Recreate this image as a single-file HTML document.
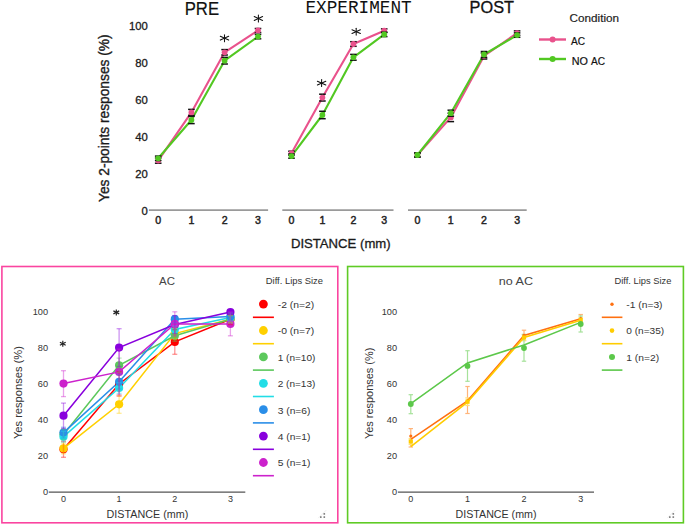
<!DOCTYPE html><html><head><meta charset="utf-8"><style>
html,body{margin:0;padding:0;background:#fff;width:685px;height:525px;overflow:hidden}
svg{display:block}
text{font-family:"Liberation Sans", sans-serif}
</style></head><body>
<svg width="685" height="525" viewBox="0 0 685 525">
<text x="184.7" y="14.9" font-size="19" fill="#111" stroke="#111" stroke-width="0.2" textLength="34.4" lengthAdjust="spacingAndGlyphs">PRE</text>
<text x="305.4" y="13.3" font-size="17.7" fill="#111" style="font-family:'Liberation Mono', monospace" textLength="106.3" lengthAdjust="spacingAndGlyphs">EXPERIMENT</text>
<text x="469.6" y="12.8" font-size="16.3" fill="#111" stroke="#111" stroke-width="0.3" textLength="44.4" lengthAdjust="spacingAndGlyphs">POST</text>
<text transform="translate(109.1,202) rotate(-90)" x="0" y="0" font-size="14.7" fill="#1a1a1a" stroke="#1a1a1a" stroke-width="0.35" textLength="167.6" lengthAdjust="spacingAndGlyphs">Yes 2-points responses (%)</text>
<text x="147.9" y="215.3" font-size="11.3" fill="#1a1a1a" stroke="#1a1a1a" stroke-width="0.3" text-anchor="end">0</text>
<text x="147.9" y="178.2" font-size="11.3" fill="#1a1a1a" stroke="#1a1a1a" stroke-width="0.3" text-anchor="end">20</text>
<text x="147.9" y="141.1" font-size="11.3" fill="#1a1a1a" stroke="#1a1a1a" stroke-width="0.3" text-anchor="end">40</text>
<text x="147.9" y="104.0" font-size="11.3" fill="#1a1a1a" stroke="#1a1a1a" stroke-width="0.3" text-anchor="end">60</text>
<text x="147.9" y="66.9" font-size="11.3" fill="#1a1a1a" stroke="#1a1a1a" stroke-width="0.3" text-anchor="end">80</text>
<text x="147.9" y="29.8" font-size="11.3" fill="#1a1a1a" stroke="#1a1a1a" stroke-width="0.3" text-anchor="end">100</text>
<line x1="148.9" y1="210.1" x2="268.1" y2="210.1" stroke="#9a9a9a" stroke-width="1.7"/>
<line x1="282.3" y1="210.1" x2="393.5" y2="210.1" stroke="#9a9a9a" stroke-width="1.7"/>
<line x1="408" y1="210.1" x2="526.7" y2="210.1" stroke="#9a9a9a" stroke-width="1.7"/>
<text x="158.2" y="224.2" font-size="10.6" fill="#222" text-anchor="middle" stroke="#222" stroke-width="0.45">0</text>
<text x="191.4" y="224.2" font-size="10.6" fill="#222" text-anchor="middle" stroke="#222" stroke-width="0.45">1</text>
<text x="224.6" y="224.2" font-size="10.6" fill="#222" text-anchor="middle" stroke="#222" stroke-width="0.45">2</text>
<text x="258.0" y="224.2" font-size="10.6" fill="#222" text-anchor="middle" stroke="#222" stroke-width="0.45">3</text>
<text x="291.5" y="224.2" font-size="10.6" fill="#222" text-anchor="middle" stroke="#222" stroke-width="0.45">0</text>
<text x="322.4" y="224.2" font-size="10.6" fill="#222" text-anchor="middle" stroke="#222" stroke-width="0.45">1</text>
<text x="353.4" y="224.2" font-size="10.6" fill="#222" text-anchor="middle" stroke="#222" stroke-width="0.45">2</text>
<text x="384.2" y="224.2" font-size="10.6" fill="#222" text-anchor="middle" stroke="#222" stroke-width="0.45">3</text>
<text x="417.4" y="224.2" font-size="10.6" fill="#222" text-anchor="middle" stroke="#222" stroke-width="0.45">0</text>
<text x="450.8" y="224.2" font-size="10.6" fill="#222" text-anchor="middle" stroke="#222" stroke-width="0.45">1</text>
<text x="484.0" y="224.2" font-size="10.6" fill="#222" text-anchor="middle" stroke="#222" stroke-width="0.45">2</text>
<text x="517.1" y="224.2" font-size="10.6" fill="#222" text-anchor="middle" stroke="#222" stroke-width="0.45">3</text>
<text x="290.9" y="247.8" font-size="13" fill="#1a1a1a" stroke="#1a1a1a" stroke-width="0.3" textLength="99.8" lengthAdjust="spacingAndGlyphs">DISTANCE (mm)</text>
<polyline points="158.2,160.6 191.4,112.4 224.6,52.3 258.0,30.5" fill="none" stroke="#e9528c" stroke-width="2.1" stroke-linejoin="round"/>
<polyline points="158.2,158.3 191.4,120.0 224.6,60.7 258.0,36.6" fill="none" stroke="#52c822" stroke-width="2.1" stroke-linejoin="round"/>
<line x1="154.9" y1="158.0" x2="161.5" y2="158.0" stroke="#111" stroke-width="1.5"/>
<line x1="154.9" y1="163.2" x2="161.5" y2="163.2" stroke="#111" stroke-width="1.5"/>
<circle cx="158.2" cy="160.6" r="2.9" fill="#e9528c"/>
<line x1="188.1" y1="109.4" x2="194.7" y2="109.4" stroke="#111" stroke-width="1.5"/>
<line x1="188.1" y1="115.4" x2="194.7" y2="115.4" stroke="#111" stroke-width="1.5"/>
<circle cx="191.4" cy="112.4" r="2.9" fill="#e9528c"/>
<line x1="221.3" y1="49.6" x2="227.9" y2="49.6" stroke="#111" stroke-width="1.5"/>
<line x1="221.3" y1="55.0" x2="227.9" y2="55.0" stroke="#111" stroke-width="1.5"/>
<circle cx="224.6" cy="52.3" r="2.9" fill="#e9528c"/>
<line x1="254.7" y1="28.5" x2="261.3" y2="28.5" stroke="#111" stroke-width="1.5"/>
<line x1="254.7" y1="32.5" x2="261.3" y2="32.5" stroke="#111" stroke-width="1.5"/>
<circle cx="258.0" cy="30.5" r="2.9" fill="#e9528c"/>
<line x1="154.9" y1="156.1" x2="161.5" y2="156.1" stroke="#111" stroke-width="1.5"/>
<line x1="154.9" y1="160.5" x2="161.5" y2="160.5" stroke="#111" stroke-width="1.5"/>
<circle cx="158.2" cy="158.3" r="2.9" fill="#52c822"/>
<line x1="188.1" y1="116.4" x2="194.7" y2="116.4" stroke="#111" stroke-width="1.5"/>
<line x1="188.1" y1="123.6" x2="194.7" y2="123.6" stroke="#111" stroke-width="1.5"/>
<circle cx="191.4" cy="120.0" r="2.9" fill="#52c822"/>
<line x1="221.3" y1="57.4" x2="227.9" y2="57.4" stroke="#111" stroke-width="1.5"/>
<line x1="221.3" y1="64.0" x2="227.9" y2="64.0" stroke="#111" stroke-width="1.5"/>
<circle cx="224.6" cy="60.7" r="2.9" fill="#52c822"/>
<line x1="254.7" y1="34.4" x2="261.3" y2="34.4" stroke="#111" stroke-width="1.5"/>
<line x1="254.7" y1="38.8" x2="261.3" y2="38.8" stroke="#111" stroke-width="1.5"/>
<circle cx="258.0" cy="36.6" r="2.9" fill="#52c822"/>
<polyline points="291.5,153.2 322.4,97.6 353.4,44.0 384.2,30.7" fill="none" stroke="#e9528c" stroke-width="2.1" stroke-linejoin="round"/>
<polyline points="291.5,156.1 322.4,115.0 353.4,57.3 384.2,34.4" fill="none" stroke="#52c822" stroke-width="2.1" stroke-linejoin="round"/>
<line x1="288.2" y1="151.2" x2="294.8" y2="151.2" stroke="#111" stroke-width="1.5"/>
<line x1="288.2" y1="155.2" x2="294.8" y2="155.2" stroke="#111" stroke-width="1.5"/>
<circle cx="291.5" cy="153.2" r="2.9" fill="#e9528c"/>
<line x1="319.1" y1="94.2" x2="325.7" y2="94.2" stroke="#111" stroke-width="1.5"/>
<line x1="319.1" y1="101.0" x2="325.7" y2="101.0" stroke="#111" stroke-width="1.5"/>
<circle cx="322.4" cy="97.6" r="2.9" fill="#e9528c"/>
<line x1="350.1" y1="41.7" x2="356.7" y2="41.7" stroke="#111" stroke-width="1.5"/>
<line x1="350.1" y1="46.3" x2="356.7" y2="46.3" stroke="#111" stroke-width="1.5"/>
<circle cx="353.4" cy="44.0" r="2.9" fill="#e9528c"/>
<line x1="380.9" y1="28.9" x2="387.5" y2="28.9" stroke="#111" stroke-width="1.5"/>
<line x1="380.9" y1="32.5" x2="387.5" y2="32.5" stroke="#111" stroke-width="1.5"/>
<circle cx="384.2" cy="30.7" r="2.9" fill="#e9528c"/>
<line x1="288.2" y1="154.0" x2="294.8" y2="154.0" stroke="#111" stroke-width="1.5"/>
<line x1="288.2" y1="158.2" x2="294.8" y2="158.2" stroke="#111" stroke-width="1.5"/>
<circle cx="291.5" cy="156.1" r="2.9" fill="#52c822"/>
<line x1="319.1" y1="111.3" x2="325.7" y2="111.3" stroke="#111" stroke-width="1.5"/>
<line x1="319.1" y1="118.7" x2="325.7" y2="118.7" stroke="#111" stroke-width="1.5"/>
<circle cx="322.4" cy="115.0" r="2.9" fill="#52c822"/>
<line x1="350.1" y1="54.4" x2="356.7" y2="54.4" stroke="#111" stroke-width="1.5"/>
<line x1="350.1" y1="60.2" x2="356.7" y2="60.2" stroke="#111" stroke-width="1.5"/>
<circle cx="353.4" cy="57.3" r="2.9" fill="#52c822"/>
<line x1="380.9" y1="32.2" x2="387.5" y2="32.2" stroke="#111" stroke-width="1.5"/>
<line x1="380.9" y1="36.6" x2="387.5" y2="36.6" stroke="#111" stroke-width="1.5"/>
<circle cx="384.2" cy="34.4" r="2.9" fill="#52c822"/>
<polyline points="417.4,155.0 450.8,117.4 484.0,56.0 517.1,33.1" fill="none" stroke="#e9528c" stroke-width="2.1" stroke-linejoin="round"/>
<polyline points="417.4,155.0 450.8,113.2 484.0,54.5 517.1,35.1" fill="none" stroke="#52c822" stroke-width="2.1" stroke-linejoin="round"/>
<line x1="414.1" y1="153.0" x2="420.7" y2="153.0" stroke="#111" stroke-width="1.5"/>
<line x1="414.1" y1="157.0" x2="420.7" y2="157.0" stroke="#111" stroke-width="1.5"/>
<circle cx="417.4" cy="155.0" r="2.9" fill="#e9528c"/>
<line x1="447.5" y1="113.2" x2="454.1" y2="113.2" stroke="#111" stroke-width="1.5"/>
<line x1="447.5" y1="121.6" x2="454.1" y2="121.6" stroke="#111" stroke-width="1.5"/>
<circle cx="450.8" cy="117.4" r="2.9" fill="#e9528c"/>
<line x1="480.7" y1="53.0" x2="487.3" y2="53.0" stroke="#111" stroke-width="1.5"/>
<line x1="480.7" y1="59.0" x2="487.3" y2="59.0" stroke="#111" stroke-width="1.5"/>
<circle cx="484.0" cy="56.0" r="2.9" fill="#e9528c"/>
<line x1="513.8" y1="30.9" x2="520.4" y2="30.9" stroke="#111" stroke-width="1.5"/>
<line x1="513.8" y1="35.3" x2="520.4" y2="35.3" stroke="#111" stroke-width="1.5"/>
<circle cx="517.1" cy="33.1" r="2.9" fill="#e9528c"/>
<line x1="414.1" y1="153.0" x2="420.7" y2="153.0" stroke="#111" stroke-width="1.5"/>
<line x1="414.1" y1="157.0" x2="420.7" y2="157.0" stroke="#111" stroke-width="1.5"/>
<circle cx="417.4" cy="155.0" r="2.9" fill="#52c822"/>
<line x1="447.5" y1="110.2" x2="454.1" y2="110.2" stroke="#111" stroke-width="1.5"/>
<line x1="447.5" y1="116.2" x2="454.1" y2="116.2" stroke="#111" stroke-width="1.5"/>
<circle cx="450.8" cy="113.2" r="2.9" fill="#52c822"/>
<line x1="480.7" y1="51.5" x2="487.3" y2="51.5" stroke="#111" stroke-width="1.5"/>
<line x1="480.7" y1="57.5" x2="487.3" y2="57.5" stroke="#111" stroke-width="1.5"/>
<circle cx="484.0" cy="54.5" r="2.9" fill="#52c822"/>
<line x1="513.8" y1="32.9" x2="520.4" y2="32.9" stroke="#111" stroke-width="1.5"/>
<line x1="513.8" y1="37.3" x2="520.4" y2="37.3" stroke="#111" stroke-width="1.5"/>
<circle cx="517.1" cy="35.1" r="2.9" fill="#52c822"/>
<g stroke="#111" stroke-width="1.05" stroke-linecap="round"><line x1="224.5" y1="34.8" x2="224.5" y2="41.7"/><line x1="220.3" y1="36.3" x2="228.7" y2="40.1"/><line x1="220.3" y1="40.1" x2="228.7" y2="36.3"/></g>
<g stroke="#111" stroke-width="1.05" stroke-linecap="round"><line x1="258.4" y1="15.1" x2="258.4" y2="21.9"/><line x1="254.2" y1="16.6" x2="262.6" y2="20.4"/><line x1="254.2" y1="20.4" x2="262.6" y2="16.6"/></g>
<g stroke="#111" stroke-width="1.05" stroke-linecap="round"><line x1="321.6" y1="79.6" x2="321.6" y2="86.5"/><line x1="317.4" y1="81.2" x2="325.8" y2="85.0"/><line x1="317.4" y1="85.0" x2="325.8" y2="81.2"/></g>
<g stroke="#111" stroke-width="1.05" stroke-linecap="round"><line x1="356.2" y1="28.2" x2="356.2" y2="35.1"/><line x1="352.0" y1="29.7" x2="360.4" y2="33.5"/><line x1="352.0" y1="33.5" x2="360.4" y2="29.7"/></g>
<text x="569.6" y="22" font-size="11.7" fill="#222" stroke="#222" stroke-width="0.2">Condition</text>
<line x1="539" y1="39.5" x2="566" y2="39.5" stroke="#e9528c" stroke-width="2.4"/><circle cx="552.6" cy="39.5" r="3" fill="#e9528c"/>
<line x1="539" y1="59" x2="566" y2="59" stroke="#52c822" stroke-width="2.4"/><circle cx="552.6" cy="59" r="3" fill="#52c822"/>
<text x="571.1" y="45.2" font-size="11.8" fill="#111" stroke="#111" stroke-width="0.2" textLength="14.1" lengthAdjust="spacingAndGlyphs">AC</text>
<text x="571.7" y="64.7" font-size="11.8" fill="#111" stroke="#111" stroke-width="0.2" textLength="16.2" lengthAdjust="spacingAndGlyphs">NO</text>
<text x="590.9" y="64.7" font-size="11.8" fill="#111" stroke="#111" stroke-width="0.2" textLength="14.1" lengthAdjust="spacingAndGlyphs">AC</text>
<rect x="1.9" y="266.5" width="335.90000000000003" height="256.29999999999995" fill="none" stroke="#fa45a0" stroke-width="1.6"/>
<line x1="318.3" y1="518.0999999999999" x2="326.3" y2="510.0999999999999" stroke="#eee" stroke-width="1"/>
<rect x="323.5" y="516.3" width="1.6" height="1.6" fill="#777"/>
<rect x="320.0" y="516.3" width="1.6" height="1.6" fill="#777"/>
<rect x="323.5" y="513.1" width="1.6" height="1.6" fill="#777"/>
<rect x="347.6" y="266.5" width="335.79999999999995" height="256.29999999999995" fill="none" stroke="#5fcb25" stroke-width="1.6"/>
<line x1="667.3" y1="518.0999999999999" x2="675.3" y2="510.0999999999999" stroke="#eee" stroke-width="1"/>
<rect x="672.5" y="516.3" width="1.6" height="1.6" fill="#777"/>
<rect x="669.0" y="516.3" width="1.6" height="1.6" fill="#777"/>
<rect x="672.5" y="513.1" width="1.6" height="1.6" fill="#777"/>
<line x1="48.8" y1="492.1" x2="245.3" y2="492.1" stroke="#555" stroke-width="1.1"/>
<text x="48" y="495.3" font-size="9.2" fill="#333" text-anchor="end">0</text>
<text x="48" y="459.3" font-size="9.2" fill="#333" text-anchor="end">20</text>
<text x="48" y="423.3" font-size="9.2" fill="#333" text-anchor="end">40</text>
<text x="48" y="387.3" font-size="9.2" fill="#333" text-anchor="end">60</text>
<text x="48" y="351.3" font-size="9.2" fill="#333" text-anchor="end">80</text>
<text x="48" y="315.3" font-size="9.2" fill="#333" text-anchor="end">100</text>
<text x="63.5" y="501.6" font-size="9.0" fill="#333" text-anchor="middle">0</text>
<text x="119.1" y="501.6" font-size="9.0" fill="#333" text-anchor="middle">1</text>
<text x="174.8" y="501.6" font-size="9.0" fill="#333" text-anchor="middle">2</text>
<text x="230.4" y="501.6" font-size="9.0" fill="#333" text-anchor="middle">3</text>
<text x="106.6" y="517.7" font-size="10.3" fill="#333" textLength="81.7" lengthAdjust="spacingAndGlyphs">DISTANCE (mm)</text>
<text transform="translate(22.4,439.1) rotate(-90)" font-size="11" fill="#333" textLength="93" lengthAdjust="spacingAndGlyphs">Yes responses (%)</text>
<text x="159.1" y="285.4" font-size="11.6" fill="#444" textLength="15.9" lengthAdjust="spacingAndGlyphs">AC</text>
<line x1="397.9" y1="492.1" x2="594" y2="492.1" stroke="#555" stroke-width="1.1"/>
<text x="397" y="495.3" font-size="9.2" fill="#333" text-anchor="end">0</text>
<text x="397" y="459.3" font-size="9.2" fill="#333" text-anchor="end">20</text>
<text x="397" y="423.3" font-size="9.2" fill="#333" text-anchor="end">40</text>
<text x="397" y="387.3" font-size="9.2" fill="#333" text-anchor="end">60</text>
<text x="397" y="351.3" font-size="9.2" fill="#333" text-anchor="end">80</text>
<text x="397" y="315.3" font-size="9.2" fill="#333" text-anchor="end">100</text>
<text x="410.8" y="501.6" font-size="9.0" fill="#333" text-anchor="middle">0</text>
<text x="467.5" y="501.6" font-size="9.0" fill="#333" text-anchor="middle">1</text>
<text x="524.0" y="501.6" font-size="9.0" fill="#333" text-anchor="middle">2</text>
<text x="580.7" y="501.6" font-size="9.0" fill="#333" text-anchor="middle">3</text>
<text x="455.5" y="517.7" font-size="10.3" fill="#333" textLength="81" lengthAdjust="spacingAndGlyphs">DISTANCE (mm)</text>
<text transform="translate(372.6,439.1) rotate(-90)" font-size="11" fill="#333" textLength="91.5" lengthAdjust="spacingAndGlyphs">Yes responses (%)</text>
<text x="498.8" y="285.4" font-size="11.6" fill="#444" textLength="34.2" lengthAdjust="spacingAndGlyphs">no AC</text>
<polyline points="63.5,449.3 119.1,384.0 174.8,341.9 230.4,319.2" fill="none" stroke="#ff0000" stroke-width="1.55"/>
<polyline points="63.5,448.4 119.1,404.3 174.8,333.6 230.4,319.2" fill="none" stroke="#ffd000" stroke-width="1.55"/>
<polyline points="63.5,434.4 119.1,365.3 174.8,335.8 230.4,319.2" fill="none" stroke="#5cc85c" stroke-width="1.55"/>
<polyline points="63.5,436.7 119.1,388.0 174.8,329.5 230.4,317.4" fill="none" stroke="#22dde6" stroke-width="1.55"/>
<polyline points="63.5,432.6 119.1,381.8 174.8,319.2 230.4,316.5" fill="none" stroke="#2a8ee8" stroke-width="1.55"/>
<polyline points="63.5,415.7 119.1,347.6 174.8,324.6 230.4,312.0" fill="none" stroke="#8800dd" stroke-width="1.55"/>
<polyline points="63.5,383.6 119.1,371.9 174.8,323.9 230.4,323.9" fill="none" stroke="#cc22cc" stroke-width="1.55"/>
<circle cx="63.5" cy="449.3" r="4.1" fill="#ff0000"/>
<circle cx="119.1" cy="384.0" r="4.1" fill="#ff0000"/>
<circle cx="174.8" cy="341.9" r="4.1" fill="#ff0000"/>
<circle cx="230.4" cy="319.2" r="4.1" fill="#ff0000"/>
<circle cx="63.5" cy="448.4" r="4.1" fill="#ffd000"/>
<circle cx="119.1" cy="404.3" r="4.1" fill="#ffd000"/>
<circle cx="174.8" cy="333.6" r="4.1" fill="#ffd000"/>
<circle cx="230.4" cy="319.2" r="4.1" fill="#ffd000"/>
<circle cx="63.5" cy="434.4" r="4.1" fill="#5cc85c"/>
<circle cx="119.1" cy="365.3" r="4.1" fill="#5cc85c"/>
<circle cx="174.8" cy="335.8" r="4.1" fill="#5cc85c"/>
<circle cx="230.4" cy="319.2" r="4.1" fill="#5cc85c"/>
<circle cx="63.5" cy="436.7" r="4.1" fill="#22dde6"/>
<circle cx="119.1" cy="388.0" r="4.1" fill="#22dde6"/>
<circle cx="174.8" cy="329.5" r="4.1" fill="#22dde6"/>
<circle cx="230.4" cy="317.4" r="4.1" fill="#22dde6"/>
<circle cx="63.5" cy="432.6" r="4.1" fill="#2a8ee8"/>
<circle cx="119.1" cy="381.8" r="4.1" fill="#2a8ee8"/>
<circle cx="174.8" cy="319.2" r="4.1" fill="#2a8ee8"/>
<circle cx="230.4" cy="316.5" r="4.1" fill="#2a8ee8"/>
<circle cx="63.5" cy="415.7" r="4.1" fill="#8800dd"/>
<circle cx="119.1" cy="347.6" r="4.1" fill="#8800dd"/>
<circle cx="174.8" cy="324.6" r="4.1" fill="#8800dd"/>
<circle cx="230.4" cy="312.0" r="4.1" fill="#8800dd"/>
<circle cx="63.5" cy="383.6" r="4.1" fill="#cc22cc"/>
<circle cx="119.1" cy="371.9" r="4.1" fill="#cc22cc"/>
<circle cx="174.8" cy="323.9" r="4.1" fill="#cc22cc"/>
<circle cx="230.4" cy="323.9" r="4.1" fill="#cc22cc"/>
<g stroke="#ff0000" stroke-opacity="0.42" stroke-width="1.3"><line x1="63.5" y1="441.4" x2="63.5" y2="457.3"/><line x1="61.0" y1="441.4" x2="66.0" y2="441.4"/><line x1="61.0" y1="457.3" x2="66.0" y2="457.3"/></g>
<g stroke="#ff0000" stroke-opacity="0.42" stroke-width="1.3"><line x1="119.1" y1="371.8" x2="119.1" y2="396.2"/><line x1="116.6" y1="371.8" x2="121.6" y2="371.8"/><line x1="116.6" y1="396.2" x2="121.6" y2="396.2"/></g>
<g stroke="#ff0000" stroke-opacity="0.42" stroke-width="1.3"><line x1="174.8" y1="329.5" x2="174.8" y2="354.3"/><line x1="172.3" y1="329.5" x2="177.3" y2="329.5"/><line x1="172.3" y1="354.3" x2="177.3" y2="354.3"/></g>
<g stroke="#ff0000" stroke-opacity="0.42" stroke-width="1.3"><line x1="230.4" y1="313.8" x2="230.4" y2="324.6"/><line x1="227.9" y1="313.8" x2="232.9" y2="313.8"/><line x1="227.9" y1="324.6" x2="232.9" y2="324.6"/></g>
<g stroke="#ffd000" stroke-opacity="0.42" stroke-width="1.3"><line x1="63.5" y1="443.0" x2="63.5" y2="453.8"/><line x1="61.0" y1="443.0" x2="66.0" y2="443.0"/><line x1="61.0" y1="453.8" x2="66.0" y2="453.8"/></g>
<g stroke="#ffd000" stroke-opacity="0.42" stroke-width="1.3"><line x1="119.1" y1="395.3" x2="119.1" y2="413.3"/><line x1="116.6" y1="395.3" x2="121.6" y2="395.3"/><line x1="116.6" y1="413.3" x2="121.6" y2="413.3"/></g>
<g stroke="#ffd000" stroke-opacity="0.42" stroke-width="1.3"><line x1="174.8" y1="328.2" x2="174.8" y2="339.0"/><line x1="172.3" y1="328.2" x2="177.3" y2="328.2"/><line x1="172.3" y1="339.0" x2="177.3" y2="339.0"/></g>
<g stroke="#ffd000" stroke-opacity="0.42" stroke-width="1.3"><line x1="230.4" y1="315.6" x2="230.4" y2="322.8"/><line x1="227.9" y1="315.6" x2="232.9" y2="315.6"/><line x1="227.9" y1="322.8" x2="232.9" y2="322.8"/></g>
<g stroke="#5cc85c" stroke-opacity="0.42" stroke-width="1.3"><line x1="63.5" y1="429.0" x2="63.5" y2="439.8"/><line x1="61.0" y1="429.0" x2="66.0" y2="429.0"/><line x1="61.0" y1="439.8" x2="66.0" y2="439.8"/></g>
<g stroke="#5cc85c" stroke-opacity="0.42" stroke-width="1.3"><line x1="119.1" y1="358.1" x2="119.1" y2="372.5"/><line x1="116.6" y1="358.1" x2="121.6" y2="358.1"/><line x1="116.6" y1="372.5" x2="121.6" y2="372.5"/></g>
<g stroke="#5cc85c" stroke-opacity="0.42" stroke-width="1.3"><line x1="174.8" y1="330.4" x2="174.8" y2="341.2"/><line x1="172.3" y1="330.4" x2="177.3" y2="330.4"/><line x1="172.3" y1="341.2" x2="177.3" y2="341.2"/></g>
<g stroke="#5cc85c" stroke-opacity="0.42" stroke-width="1.3"><line x1="230.4" y1="315.6" x2="230.4" y2="322.8"/><line x1="227.9" y1="315.6" x2="232.9" y2="315.6"/><line x1="227.9" y1="322.8" x2="232.9" y2="322.8"/></g>
<g stroke="#22dde6" stroke-opacity="0.42" stroke-width="1.3"><line x1="63.5" y1="431.3" x2="63.5" y2="442.1"/><line x1="61.0" y1="431.3" x2="66.0" y2="431.3"/><line x1="61.0" y1="442.1" x2="66.0" y2="442.1"/></g>
<g stroke="#22dde6" stroke-opacity="0.42" stroke-width="1.3"><line x1="119.1" y1="382.6" x2="119.1" y2="393.4"/><line x1="116.6" y1="382.6" x2="121.6" y2="382.6"/><line x1="116.6" y1="393.4" x2="121.6" y2="393.4"/></g>
<g stroke="#22dde6" stroke-opacity="0.42" stroke-width="1.3"><line x1="174.8" y1="325.9" x2="174.8" y2="333.1"/><line x1="172.3" y1="325.9" x2="177.3" y2="325.9"/><line x1="172.3" y1="333.1" x2="177.3" y2="333.1"/></g>
<g stroke="#22dde6" stroke-opacity="0.42" stroke-width="1.3"><line x1="230.4" y1="313.8" x2="230.4" y2="321.0"/><line x1="227.9" y1="313.8" x2="232.9" y2="313.8"/><line x1="227.9" y1="321.0" x2="232.9" y2="321.0"/></g>
<g stroke="#2a8ee8" stroke-opacity="0.42" stroke-width="1.3"><line x1="63.5" y1="427.2" x2="63.5" y2="438.0"/><line x1="61.0" y1="427.2" x2="66.0" y2="427.2"/><line x1="61.0" y1="438.0" x2="66.0" y2="438.0"/></g>
<g stroke="#2a8ee8" stroke-opacity="0.42" stroke-width="1.3"><line x1="119.1" y1="374.6" x2="119.1" y2="389.0"/><line x1="116.6" y1="374.6" x2="121.6" y2="374.6"/><line x1="116.6" y1="389.0" x2="121.6" y2="389.0"/></g>
<g stroke="#2a8ee8" stroke-opacity="0.42" stroke-width="1.3"><line x1="174.8" y1="315.6" x2="174.8" y2="322.8"/><line x1="172.3" y1="315.6" x2="177.3" y2="315.6"/><line x1="172.3" y1="322.8" x2="177.3" y2="322.8"/></g>
<g stroke="#2a8ee8" stroke-opacity="0.42" stroke-width="1.3"><line x1="230.4" y1="312.9" x2="230.4" y2="320.1"/><line x1="227.9" y1="312.9" x2="232.9" y2="312.9"/><line x1="227.9" y1="320.1" x2="232.9" y2="320.1"/></g>
<g stroke="#8800dd" stroke-opacity="0.42" stroke-width="1.3"><line x1="63.5" y1="403.1" x2="63.5" y2="428.3"/><line x1="61.0" y1="403.1" x2="66.0" y2="403.1"/><line x1="61.0" y1="428.3" x2="66.0" y2="428.3"/></g>
<g stroke="#8800dd" stroke-opacity="0.42" stroke-width="1.3"><line x1="119.1" y1="328.7" x2="119.1" y2="366.5"/><line x1="116.6" y1="328.7" x2="121.6" y2="328.7"/><line x1="116.6" y1="366.5" x2="121.6" y2="366.5"/></g>
<g stroke="#8800dd" stroke-opacity="0.42" stroke-width="1.3"><line x1="174.8" y1="315.6" x2="174.8" y2="333.6"/><line x1="172.3" y1="315.6" x2="177.3" y2="315.6"/><line x1="172.3" y1="333.6" x2="177.3" y2="333.6"/></g>
<g stroke="#8800dd" stroke-opacity="0.42" stroke-width="1.3"><line x1="230.4" y1="310.2" x2="230.4" y2="313.8"/><line x1="227.9" y1="310.2" x2="232.9" y2="310.2"/><line x1="227.9" y1="313.8" x2="232.9" y2="313.8"/></g>
<g stroke="#cc22cc" stroke-opacity="0.42" stroke-width="1.3"><line x1="63.5" y1="370.7" x2="63.5" y2="396.6"/><line x1="61.0" y1="370.7" x2="66.0" y2="370.7"/><line x1="61.0" y1="396.6" x2="66.0" y2="396.6"/></g>
<g stroke="#cc22cc" stroke-opacity="0.42" stroke-width="1.3"><line x1="119.1" y1="349.1" x2="119.1" y2="394.8"/><line x1="116.6" y1="349.1" x2="121.6" y2="349.1"/><line x1="116.6" y1="394.8" x2="121.6" y2="394.8"/></g>
<g stroke="#cc22cc" stroke-opacity="0.42" stroke-width="1.3"><line x1="174.8" y1="311.8" x2="174.8" y2="335.9"/><line x1="172.3" y1="311.8" x2="177.3" y2="311.8"/><line x1="172.3" y1="335.9" x2="177.3" y2="335.9"/></g>
<g stroke="#cc22cc" stroke-opacity="0.42" stroke-width="1.3"><line x1="230.4" y1="312.0" x2="230.4" y2="335.8"/><line x1="227.9" y1="312.0" x2="232.9" y2="312.0"/><line x1="227.9" y1="335.8" x2="232.9" y2="335.8"/></g>
<g stroke="#222" stroke-width="1.2"><line x1="62.8" y1="340.8" x2="62.8" y2="346.8"/><line x1="59.9" y1="342.3" x2="65.7" y2="345.3"/><line x1="59.9" y1="345.3" x2="65.7" y2="342.3"/></g>
<g stroke="#222" stroke-width="1.2"><line x1="116.3" y1="309.4" x2="116.3" y2="315.4"/><line x1="113.4" y1="310.9" x2="119.2" y2="313.9"/><line x1="113.4" y1="313.9" x2="119.2" y2="310.9"/></g>
<text x="265.8" y="283.8" font-size="9" fill="#333" textLength="57.2" lengthAdjust="spacingAndGlyphs">Diff. Lips Size</text>
<circle cx="263.4" cy="304.1" r="4.4" fill="#ff0000"/>
<line x1="252.9" y1="317.3" x2="273.9" y2="317.3" stroke="#ff0000" stroke-width="1.6"/>
<text x="277.7" y="307.9" font-size="9.3" fill="#333" textLength="36.5" lengthAdjust="spacingAndGlyphs">-2 (n=2)</text>
<circle cx="263.4" cy="330.5" r="4.4" fill="#ffd000"/>
<line x1="252.9" y1="343.7" x2="273.9" y2="343.7" stroke="#ffd000" stroke-width="1.6"/>
<text x="277.7" y="334.3" font-size="9.3" fill="#333" textLength="36.6" lengthAdjust="spacingAndGlyphs">-0 (n=7)</text>
<circle cx="263.4" cy="356.9" r="4.4" fill="#5cc85c"/>
<line x1="252.9" y1="370.1" x2="273.9" y2="370.1" stroke="#5cc85c" stroke-width="1.6"/>
<text x="277.7" y="360.7" font-size="9.3" fill="#333" textLength="37.7" lengthAdjust="spacingAndGlyphs">1 (n=10)</text>
<circle cx="263.4" cy="383.3" r="4.4" fill="#22dde6"/>
<line x1="252.9" y1="396.5" x2="273.9" y2="396.5" stroke="#22dde6" stroke-width="1.6"/>
<text x="277.7" y="387.1" font-size="9.3" fill="#333" textLength="37.7" lengthAdjust="spacingAndGlyphs">2 (n=13)</text>
<circle cx="263.4" cy="409.7" r="4.4" fill="#2a8ee8"/>
<line x1="252.9" y1="422.9" x2="273.9" y2="422.9" stroke="#2a8ee8" stroke-width="1.6"/>
<text x="277.7" y="413.5" font-size="9.3" fill="#333" textLength="32.8" lengthAdjust="spacingAndGlyphs">3 (n=6)</text>
<circle cx="263.4" cy="436.1" r="4.4" fill="#8800dd"/>
<line x1="252.9" y1="449.3" x2="273.9" y2="449.3" stroke="#8800dd" stroke-width="1.6"/>
<text x="277.7" y="439.9" font-size="9.3" fill="#333" textLength="32.8" lengthAdjust="spacingAndGlyphs">4 (n=1)</text>
<circle cx="263.4" cy="462.5" r="4.4" fill="#cc22cc"/>
<line x1="252.9" y1="475.7" x2="273.9" y2="475.7" stroke="#cc22cc" stroke-width="1.6"/>
<text x="277.7" y="466.3" font-size="9.3" fill="#333" textLength="32.8" lengthAdjust="spacingAndGlyphs">5 (n=1)</text>
<g stroke="#ffb47a" stroke-width="1.2"><line x1="410.8" y1="428.6" x2="410.8" y2="447.0"/><line x1="408.6" y1="428.6" x2="413.0" y2="428.6"/><line x1="408.6" y1="447.0" x2="413.0" y2="447.0"/></g>
<g stroke="#ffb47a" stroke-width="1.2"><line x1="467.5" y1="386.5" x2="467.5" y2="413.5"/><line x1="465.3" y1="386.5" x2="469.7" y2="386.5"/><line x1="465.3" y1="413.5" x2="469.7" y2="413.5"/></g>
<g stroke="#ffb47a" stroke-width="1.2"><line x1="524.0" y1="330.2" x2="524.0" y2="340.6"/><line x1="521.8" y1="330.2" x2="526.2" y2="330.2"/><line x1="521.8" y1="340.6" x2="526.2" y2="340.6"/></g>
<g stroke="#ffb47a" stroke-width="1.2"><line x1="580.7" y1="314.5" x2="580.7" y2="322.9"/><line x1="578.5" y1="314.5" x2="582.9" y2="314.5"/><line x1="578.5" y1="322.9" x2="582.9" y2="322.9"/></g>
<g stroke="#ffe27a" stroke-width="1.2"><line x1="410.8" y1="438.5" x2="410.8" y2="444.5"/><line x1="408.6" y1="438.5" x2="413.0" y2="438.5"/><line x1="408.6" y1="444.5" x2="413.0" y2="444.5"/></g>
<g stroke="#ffe27a" stroke-width="1.2"><line x1="467.5" y1="397.9" x2="467.5" y2="405.5"/><line x1="465.3" y1="397.9" x2="469.7" y2="397.9"/><line x1="465.3" y1="405.5" x2="469.7" y2="405.5"/></g>
<g stroke="#ffe27a" stroke-width="1.2"><line x1="524.0" y1="334.5" x2="524.0" y2="340.5"/><line x1="521.8" y1="334.5" x2="526.2" y2="334.5"/><line x1="521.8" y1="340.5" x2="526.2" y2="340.5"/></g>
<g stroke="#ffe27a" stroke-width="1.2"><line x1="580.7" y1="317.7" x2="580.7" y2="322.7"/><line x1="578.5" y1="317.7" x2="582.9" y2="317.7"/><line x1="578.5" y1="322.7" x2="582.9" y2="322.7"/></g>
<g stroke="#a6e29a" stroke-width="1.2"><line x1="410.8" y1="394.7" x2="410.8" y2="413.7"/><line x1="408.6" y1="394.7" x2="413.0" y2="394.7"/><line x1="408.6" y1="413.7" x2="413.0" y2="413.7"/></g>
<g stroke="#a6e29a" stroke-width="1.2"><line x1="467.5" y1="350.7" x2="467.5" y2="381.3"/><line x1="465.3" y1="350.7" x2="469.7" y2="350.7"/><line x1="465.3" y1="381.3" x2="469.7" y2="381.3"/></g>
<g stroke="#a6e29a" stroke-width="1.2"><line x1="524.0" y1="334.4" x2="524.0" y2="361.2"/><line x1="521.8" y1="334.4" x2="526.2" y2="334.4"/><line x1="521.8" y1="361.2" x2="526.2" y2="361.2"/></g>
<g stroke="#a6e29a" stroke-width="1.2"><line x1="580.7" y1="316.0" x2="580.7" y2="332.0"/><line x1="578.5" y1="316.0" x2="582.9" y2="316.0"/><line x1="578.5" y1="332.0" x2="582.9" y2="332.0"/></g>
<polyline points="410.8,439.3 467.5,400.8 524.0,335.4 580.7,318.7" fill="none" stroke="#ff7010" stroke-width="1.55"/>
<polyline points="410.8,446.7 467.5,402.1 524.0,337.5 580.7,320.2" fill="none" stroke="#ffcc00" stroke-width="1.55"/>
<polyline points="410.8,403.6 467.5,362.9 524.0,344.9 580.7,322.4" fill="none" stroke="#5cc84a" stroke-width="1.55"/>
<circle cx="410.8" cy="436.0" r="1.6" fill="#ff7010"/>
<circle cx="467.5" cy="400.8" r="1.6" fill="#ff7010"/>
<circle cx="524.0" cy="335.4" r="1.6" fill="#ff7010"/>
<circle cx="580.7" cy="318.7" r="1.6" fill="#ff7010"/>
<rect x="408.7" y="439.4" width="4.2" height="4.2" fill="#ffcc00"/>
<rect x="465.4" y="399.6" width="4.2" height="4.2" fill="#ffcc00"/>
<rect x="521.9" y="335.4" width="4.2" height="4.2" fill="#ffcc00"/>
<rect x="578.6" y="318.1" width="4.2" height="4.2" fill="#ffcc00"/>
<circle cx="410.8" cy="404.0" r="2.9" fill="#5cc84a"/>
<circle cx="467.5" cy="365.9" r="2.9" fill="#5cc84a"/>
<circle cx="524.0" cy="348.0" r="2.9" fill="#5cc84a"/>
<circle cx="580.7" cy="324.0" r="2.9" fill="#5cc84a"/>
<text x="614.5" y="283.8" font-size="9" fill="#333" textLength="56.9" lengthAdjust="spacingAndGlyphs">Diff. Lips Size</text>
<circle cx="612" cy="304.2" r="1.7" fill="#ff7010"/>
<line x1="601.8" y1="317.3" x2="622.4" y2="317.3" stroke="#ff7010" stroke-width="1.6"/>
<text x="626.3" y="308.0" font-size="9.3" fill="#333" textLength="36.2" lengthAdjust="spacingAndGlyphs">-1 (n=3)</text>
<circle cx="612" cy="330.6" r="2.3" fill="#ffcc00"/>
<line x1="601.8" y1="343.7" x2="622.4" y2="343.7" stroke="#ffcc00" stroke-width="1.6"/>
<text x="626.3" y="334.4" font-size="9.3" fill="#333" textLength="37.9" lengthAdjust="spacingAndGlyphs">0 (n=35)</text>
<circle cx="612" cy="357.0" r="3.0" fill="#5cc84a"/>
<line x1="601.8" y1="370.1" x2="622.4" y2="370.1" stroke="#5cc84a" stroke-width="1.6"/>
<text x="626.3" y="360.8" font-size="9.3" fill="#333" textLength="32.8" lengthAdjust="spacingAndGlyphs">1 (n=2)</text>
</svg></body></html>
